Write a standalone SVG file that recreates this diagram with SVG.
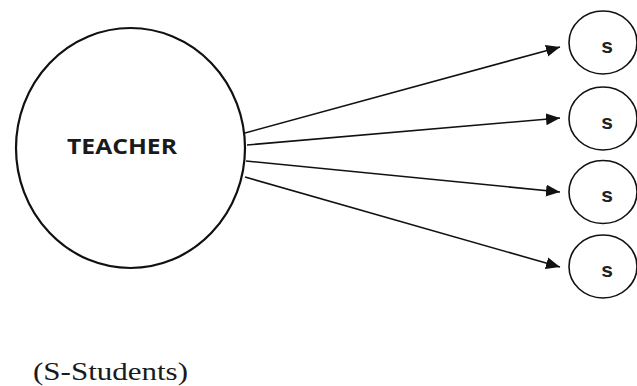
<svg xmlns="http://www.w3.org/2000/svg" width="637" height="386" viewBox="0 0 637 386">
<style>
.node{fill:#fff;stroke:#111;}
.conn{stroke:#111;stroke-width:1.6;fill:none;marker-end:url(#arr);}
.s{font-family:"Liberation Sans",Arial,sans-serif;font-weight:bold;font-size:21px;fill:#222;text-anchor:middle;}
</style>
<defs>
<marker id="arr" markerUnits="userSpaceOnUse" markerWidth="15" markerHeight="13" refX="14" refY="6" orient="auto">
<path d="M0,0 L14,6 L0,12 z" fill="#111"/>
</marker>
</defs>
<rect width="637" height="386" fill="#fff"/>
<g id="teacher">
<ellipse class="node" cx="130.5" cy="148" rx="114.5" ry="120" stroke-width="2.2"/>
<text x="67" y="154" font-family="'Open Sans','DejaVu Sans',sans-serif" font-weight="bold" font-size="21" fill="#1a1a1a" textLength="110" lengthAdjust="spacingAndGlyphs">TEACHER</text>
</g>
<g id="s1"><ellipse class="node" cx="603" cy="42.5" rx="34" ry="31.5" stroke-width="1.6"/><text class="s" x="607" y="53">s</text></g>
<g id="s2"><ellipse class="node" cx="603" cy="118.5" rx="34" ry="31.5" stroke-width="1.6"/><text class="s" x="607" y="129">s</text></g>
<g id="s3"><ellipse class="node" cx="603" cy="192" rx="34" ry="31.5" stroke-width="1.6"/><text class="s" x="607" y="202">s</text></g>
<g id="s4"><ellipse class="node" cx="603" cy="266.5" rx="34" ry="31.5" stroke-width="1.6"/><text class="s" x="607" y="277">s</text></g>
<g id="connectors">
<line class="conn" x1="245" y1="133" x2="560" y2="47"/>
<line class="conn" x1="247" y1="145" x2="560" y2="118"/>
<line class="conn" x1="246" y1="161" x2="560" y2="192"/>
<line class="conn" x1="245" y1="177" x2="560" y2="267"/>
</g>
<text x="33" y="380" font-family="'Liberation Serif','Times New Roman',serif" font-size="26" fill="#1a1a1a" textLength="155" lengthAdjust="spacingAndGlyphs">(S-Students)</text>
</svg>
